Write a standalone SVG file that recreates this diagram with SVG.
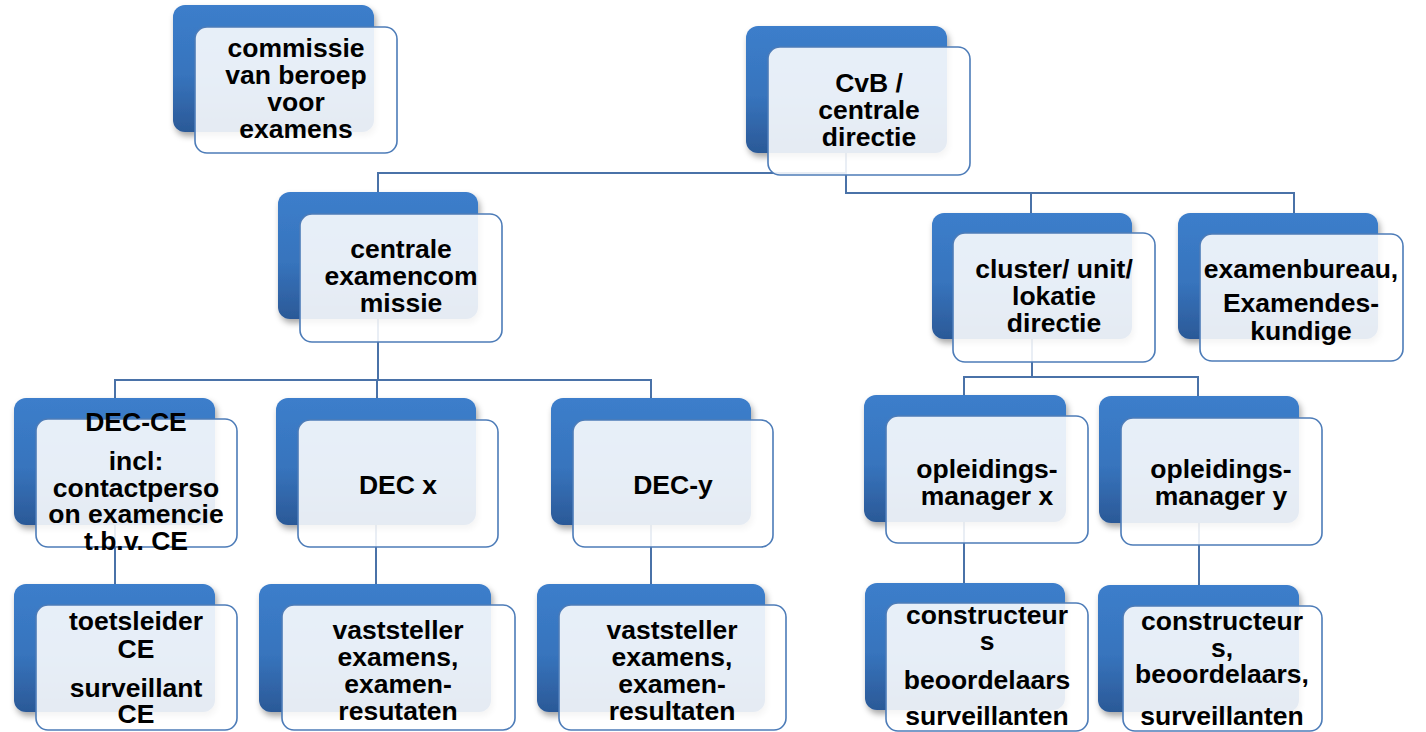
<svg xmlns="http://www.w3.org/2000/svg" width="1426" height="732" viewBox="0 0 1426 732">
<defs>
<linearGradient id="bg" x1="0" y1="0" x2="0" y2="1">
<stop offset="0" stop-color="#3c7ecb"/>
<stop offset="0.55" stop-color="#3774bd"/>
<stop offset="1" stop-color="#2b5997"/>
</linearGradient>
<filter id="sh" x="-10%" y="-10%" width="125%" height="130%">
<feDropShadow dx="2" dy="4" stdDeviation="3" flood-color="#000" flood-opacity="0.35"/>
</filter>
<style>
.back{fill:url(#bg);filter:url(#sh)}
.front{fill:#fff;fill-opacity:0.88;stroke:#4d7cb8;stroke-width:1.6}
.t{font-family:"Liberation Sans",Arial,sans-serif;font-weight:bold;font-size:26.5px;fill:#000;text-anchor:middle}
.c{fill:none;stroke:#4a72a8;stroke-width:2}
</style>
</defs>
<rect width="1426" height="732" fill="#fff"/>
<g id="connectors">
<path class="c" d="M846,153 V173 H378 V192"/>
<path class="c" d="M846,153 V193 H1294 V213"/>
<path class="c" d="M1031,193 V213"/>
<path class="c" d="M378,319 V380 H115 V398"/>
<path class="c" d="M378,380 H651 V398"/>
<path class="c" d="M377,380 V398"/>
<path class="c" d="M115,525 V584"/>
<path class="c" d="M376,525 V584"/>
<path class="c" d="M651,525 V584"/>
<path class="c" d="M1032,339 V377 H964 V395"/>
<path class="c" d="M1032,377 H1198 V396"/>
<path class="c" d="M964,522 V583"/>
<path class="c" d="M1199,523 V585"/>
</g>
<g id="n1">
<rect class="back" x="173" y="5" width="201" height="127" rx="12"/>
<rect class="front" x="195" y="27" width="202" height="126" rx="12"/>
<text class="t" x="296" y="57">commissie</text>
<text class="t" x="296" y="84">van beroep</text>
<text class="t" x="296" y="111">voor</text>
<text class="t" x="296" y="138">examens</text>
</g>
<g id="n2">
<rect class="back" x="746" y="26" width="201" height="127" rx="12"/>
<rect class="front" x="768" y="47" width="202" height="128" rx="12"/>
<text class="t" x="869" y="92">CvB /</text>
<text class="t" x="869" y="119">centrale</text>
<text class="t" x="869" y="146">directie</text>
</g>
<g id="n3">
<rect class="back" x="278" y="192" width="200" height="127" rx="12"/>
<rect class="front" x="300" y="214" width="202" height="128" rx="12"/>
<text class="t" x="401" y="258">centrale</text>
<text class="t" x="401" y="285">examencom</text>
<text class="t" x="401" y="312">missie</text>
</g>
<g id="n4">
<rect class="back" x="932" y="213" width="200" height="126" rx="12"/>
<rect class="front" x="953" y="233" width="202" height="129" rx="12"/>
<text class="t" x="1054" y="278">cluster/ unit/</text>
<text class="t" x="1054" y="305">lokatie</text>
<text class="t" x="1054" y="332">directie</text>
</g>
<g id="n5">
<rect class="back" x="1178" y="213" width="200" height="126" rx="12"/>
<rect class="front" x="1200" y="234" width="203" height="127" rx="12"/>
<text class="t" x="1301" y="278">examenbureau,</text>
<text class="t" x="1301" y="312">Examendes-</text>
<text class="t" x="1301" y="340">kundige</text>
</g>
<g id="n6">
<rect class="back" x="14" y="398" width="201" height="127" rx="12"/>
<rect class="front" x="36" y="419" width="201" height="128" rx="12"/>
<text class="t" x="136" y="431">DEC-CE</text>
<text class="t" x="136" y="470">incl:</text>
<text class="t" x="136" y="497">contactperso</text>
<text class="t" x="136" y="523">on examencie</text>
<text class="t" x="136" y="550">t.b.v. CE</text>
</g>
<g id="n7">
<rect class="back" x="276" y="398" width="200" height="127" rx="12"/>
<rect class="front" x="298" y="420" width="200" height="127" rx="12"/>
<text class="t" x="398" y="494">DEC x</text>
</g>
<g id="n8">
<rect class="back" x="551" y="398" width="200" height="127" rx="12"/>
<rect class="front" x="573" y="420" width="200" height="127" rx="12"/>
<text class="t" x="673" y="494">DEC-y</text>
</g>
<g id="n9">
<rect class="back" x="864" y="395" width="202" height="127" rx="12"/>
<rect class="front" x="886" y="416" width="202" height="127" rx="12"/>
<text class="t" x="987" y="478">opleidings-</text>
<text class="t" x="987" y="505">manager x</text>
</g>
<g id="n10">
<rect class="back" x="1099" y="396" width="200" height="127" rx="12"/>
<rect class="front" x="1121" y="418" width="201" height="127" rx="12"/>
<text class="t" x="1221" y="478">opleidings-</text>
<text class="t" x="1221" y="505">manager y</text>
</g>
<g id="n11">
<rect class="back" x="14" y="584" width="201" height="128" rx="12"/>
<rect class="front" x="36" y="605" width="201" height="125" rx="12"/>
<text class="t" x="136" y="630">toetsleider</text>
<text class="t" x="136" y="658">CE</text>
<text class="t" x="136" y="697">surveillant</text>
<text class="t" x="136" y="723">CE</text>
</g>
<g id="n12">
<rect class="back" x="259" y="584" width="232" height="128" rx="12"/>
<rect class="front" x="282" y="605" width="233" height="125" rx="12"/>
<text class="t" x="398" y="639">vaststeller</text>
<text class="t" x="398" y="666">examens,</text>
<text class="t" x="398" y="693">examen-</text>
<text class="t" x="398" y="720">resutaten</text>
</g>
<g id="n13">
<rect class="back" x="537" y="584" width="228" height="128" rx="12"/>
<rect class="front" x="559" y="605" width="227" height="125" rx="12"/>
<text class="t" x="672" y="639">vaststeller</text>
<text class="t" x="672" y="666">examens,</text>
<text class="t" x="672" y="693">examen-</text>
<text class="t" x="672" y="720">resultaten</text>
</g>
<g id="n14">
<rect class="back" x="865" y="583" width="200" height="127" rx="12"/>
<rect class="front" x="886" y="603" width="202" height="128" rx="12"/>
<text class="t" x="987" y="624">constructeur</text>
<text class="t" x="987" y="650">s</text>
<text class="t" x="987" y="689">beoordelaars</text>
<text class="t" x="987" y="725">surveillanten</text>
</g>
<g id="n15">
<rect class="back" x="1098" y="585" width="201" height="127" rx="12"/>
<rect class="front" x="1123" y="606" width="199" height="125" rx="12"/>
<text class="t" x="1222" y="630">constructeur</text>
<text class="t" x="1222" y="657">s,</text>
<text class="t" x="1222" y="683">beoordelaars,</text>
<text class="t" x="1222" y="725">surveillanten</text>
</g>
</svg>
